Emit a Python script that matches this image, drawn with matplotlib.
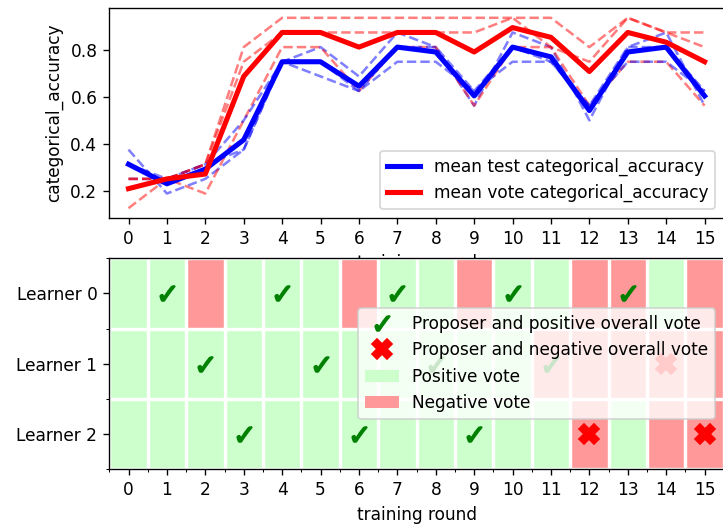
import matplotlib
matplotlib.use("Agg")
import matplotlib.pyplot as plt
from matplotlib.colors import ListedColormap
from matplotlib.lines import Line2D
from matplotlib.patches import Patch
import numpy as np

rounds = list(range(16))

# per-learner test accuracy
test_acc_l0 = [0.375, 0.1875, 0.25, 0.375, 0.75, 0.8125, 0.6875, 0.875, 0.8125, 0.5625, 0.875, 0.8125, 0.5, 0.8125, 0.875, 0.5625]
test_acc_l1 = [0.25, 0.25, 0.3125, 0.5, 0.75, 0.6875, 0.625, 0.8125, 0.8125, 0.625, 0.8125, 0.75, 0.5625, 0.8125, 0.8125, 0.625]
test_acc_l2 = [0.3125, 0.25, 0.3125, 0.375, 0.75, 0.75, 0.625, 0.75, 0.75, 0.625, 0.75, 0.75, 0.5625, 0.75, 0.75, 0.625]

# per-learner vote accuracy
vote_acc_l0 = [0.125, 0.25, 0.1875, 0.5, 0.8125, 0.8125, 0.625, 0.8125, 0.8125, 0.5625, 0.8125, 0.8125, 0.5625, 0.75, 0.75, 0.5625]
vote_acc_l1 = [0.25, 0.25, 0.3125, 0.8125, 0.9375, 0.9375, 0.9375, 0.9375, 0.9375, 0.9375, 0.9375, 0.9375, 0.8125, 0.9375, 0.875, 0.8125]
vote_acc_l2 = [0.25, 0.25, 0.3125, 0.75, 0.875, 0.875, 0.875, 0.875, 0.875, 0.875, 0.9375, 0.8125, 0.75, 0.9375, 0.875, 0.875]

learner_names = ["Learner 0", "Learner 1", "Learner 2"]
# 0 = positive vote, 1 = negative vote
votes_l0 = [0, 0, 1, 0, 0, 0, 1, 0, 0, 1, 0, 0, 1, 1, 0, 1]
votes_l1 = [0, 0, 0, 0, 0, 0, 0, 0, 0, 0, 0, 1, 1, 1, 1, 1]
votes_l2 = [0, 0, 0, 0, 0, 0, 0, 0, 0, 0, 0, 0, 1, 0, 1, 1]
# proposer of each round (None = no proposal) and overall outcome
proposer = [None, 0, 1, 2, 0, 1, 2, 0, 1, 2, 0, 1, 2, 0, 1, 2]
overall_positive = [None, True, True, True, True, True, True, True, True, True, True, True, False, True, False, False]

test_all = np.array([test_acc_l0, test_acc_l1, test_acc_l2])
vote_all = np.array([vote_acc_l0, vote_acc_l1, vote_acc_l2])

W, H = 723, 525
DPI = 122
fig = plt.figure(figsize=(W / DPI, H / DPI), dpi=DPI)

ax1 = fig.add_axes([109.3 / W, 1 - 217.7 / H, 614.5 / W, 209.4 / H])
ax2 = fig.add_axes([109.3 / W, 1 - 469 / H, 614.5 / W, 210.7 / H])

for i in range(3):
    ax1.plot(rounds, test_all[i], "--", color="blue", alpha=0.5, lw=1.5)
    ax1.plot(rounds, vote_all[i], "--", color="red", alpha=0.5, lw=1.5)
ax1.plot(rounds, test_all.mean(axis=0), color="blue", lw=3, label="mean test categorical_accuracy")
ax1.plot(rounds, vote_all.mean(axis=0), color="red", lw=3, label="mean vote categorical_accuracy")
ax1.set_xlim(-0.5, 15.5)
ax1.set_xticks(rounds)
ax1.set_yticks([0.2, 0.4, 0.6, 0.8])
ax1.set_xlabel("training round")
ax1.set_ylabel("categorical_accuracy")
ax1.legend(loc="lower right")

votes = np.array([votes_l0, votes_l1, votes_l2])
green = (0.8, 1.0, 0.8)
red = (1.0, 0.6, 0.6)
cmap = ListedColormap([green, red])
ax2.imshow(votes, cmap=cmap, vmin=0, vmax=1, aspect="auto", interpolation="nearest")
ax2.set_xticks(rounds)
ax2.set_xticks(np.arange(-0.5, 16, 1), minor=True)
ax2.set_yticks(range(3))
ax2.set_yticklabels(learner_names)
ax2.set_yticks(np.arange(-0.5, 3, 1), minor=True)
ax2.grid(which="minor", color="w", linewidth=2)
ax2.tick_params(which="minor", length=2)
ax2.set_xlabel("training round")

CHECK_MS = 8.8
X_MS = 12
for r in rounds:
    p = proposer[r]
    if p is None:
        continue
    if overall_positive[r]:
        ax2.plot(r, p, marker=r"$\checkmark$", color="green", markersize=CHECK_MS, linestyle="None")
    else:
        ax2.plot(r, p, marker="X", color="red", markersize=X_MS, linestyle="None")

handles = [
    Line2D([], [], marker=r"$\checkmark$", color="green", markersize=CHECK_MS, linestyle="None"),
    Line2D([], [], marker="X", color="red", markersize=X_MS, linestyle="None"),
    Patch(facecolor=green),
    Patch(facecolor=red),
]
labels = ["Proposer and positive overall vote", "Proposer and negative overall vote",
          "Positive vote", "Negative vote"]
ax2.legend(handles, labels, loc="center right")

fig.savefig("out.png", dpi=DPI)
